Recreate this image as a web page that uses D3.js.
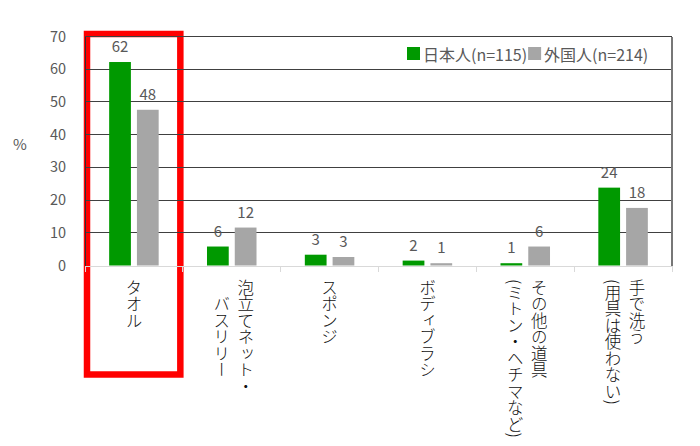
<!DOCTYPE html>
<html>
<head>
<meta charset="utf-8">
<script src="https://cdn.jsdelivr.net/npm/d3@7"></script>
<style>
  html, body { margin: 0; padding: 0; background: #fff; }
  svg { display: block; font-family: "Noto Sans CJK JP", "Noto Sans", sans-serif; }
</style>
</head>
<body>
<svg id="chart" width="700" height="446"></svg>
<script>
// ---- data ----
const categories = ["タオル", "泡立てネット・バスリリー", "スポンジ", "ボディブラシ", "その他の道具(ミトン・ヘチマなど)", "手で洗う(用具は使わない)"];
const categoryLines = [
  ["タオル"],
  ["泡立てネット・", "　バスリリー"],
  ["スポンジ"],
  ["ボディブラシ"],
  ["その他の道具", "(ミトン・ヘチマなど)"],
  ["手で洗う", "(用具は使わない)"]
];
const seriesNames = ["日本人(n=115)", "外国人(n=214)"];
const japanese = [62.2, 5.8, 3.3, 1.5, 0.7, 23.8];
const foreign  = [47.6, 11.6, 2.6, 0.7, 5.8, 17.6];
const yTicks = [0, 10, 20, 30, 40, 50, 60, 70];
const highlighted = "タオル";

// ---- layout ----
const svg = d3.select("#chart");
const pLeft = 85, pRight = 672, pTop = 36.5, pBottom = 265.5;
const colors = ["#009900", "#a6a6a6"];
const textGray = "#595959";

const x = d3.scaleBand().domain(categories).range([pLeft, pRight]).paddingInner(0).paddingOuter(0);
const x1 = d3.scaleBand().domain(seriesNames).range([0, x.bandwidth()]).paddingInner(0.217).paddingOuter(0.87);
const y = d3.scaleLinear().domain([0, 70]).range([pBottom, pTop]);
const fmt = d3.format(".0f");

const rows = categories.map((c, i) => ({ cat: c, lines: categoryLines[i], vals: [japanese[i], foreign[i]] }));

// red highlight box (behind the chart lines)
const hx = x(highlighted);
svg.append("rect")
  .attr("x", hx + 2)
  .attr("y", y(70) - 2.5)
  .attr("width", x.bandwidth() - 4.5)
  .attr("height", 374.5 - (y(70) - 2.5))
  .attr("fill", "none")
  .attr("stroke", "#ff0000")
  .attr("stroke-width", 6.5);

// gridlines
svg.append("g").selectAll("line").data(yTicks.filter(t => t > 0)).join("line")
  .attr("x1", pLeft).attr("x2", pRight)
  .attr("y1", d => y(d)).attr("y2", d => y(d))
  .attr("stroke", "#404040")
  .attr("stroke-width", d => d === 70 ? 1.6 : 1)
  .attr("shape-rendering", "crispEdges");

// plot border verticals
svg.append("line").attr("x1", pLeft).attr("x2", pLeft).attr("y1", y(70)).attr("y2", y(0))
  .attr("stroke", "#333").attr("stroke-width", 1).attr("shape-rendering", "crispEdges");
svg.append("line").attr("x1", pRight).attr("x2", pRight).attr("y1", y(70)).attr("y2", y(0))
  .attr("stroke", "#777").attr("stroke-width", 1.3).attr("shape-rendering", "crispEdges");

// baseline x axis with ticks at boundaries
const xAxis = d3.axisBottom(x).tickSize(0).tickFormat("");
const gx = svg.append("g").attr("transform", `translate(0,${y(0)})`).call(xAxis);
gx.select(".domain").attr("stroke", "#d9d9d9").attr("shape-rendering", "crispEdges");
const bounds = categories.map(c => x(c)).concat([x(categories[categories.length - 1]) + x.bandwidth()]);
gx.selectAll(".bnd").data(bounds).join("line").attr("class", "bnd")
  .attr("x1", d => d).attr("x2", d => d).attr("y1", 0).attr("y2", 6)
  .attr("stroke", "#d9d9d9").attr("shape-rendering", "crispEdges");

// y tick labels
const yAxis = d3.axisLeft(y).tickValues(yTicks).tickSize(0).tickPadding(0);
const gy = svg.append("g").attr("transform", `translate(66,0)`).call(yAxis);
gy.select(".domain").remove();
gy.selectAll("text").attr("fill", textGray).style("font-size", "14.5px")
  .style("font-family", "'Noto Sans CJK JP', sans-serif");

svg.append("text").attr("x", 20).attr("y", 143).attr("text-anchor", "middle")
  .attr("dominant-baseline", "central").attr("fill", textGray).style("font-size", "15px").text("%");

// bars
const groups = svg.append("g").selectAll("g").data(rows).join("g")
  .attr("transform", d => `translate(${x(d.cat)},0)`);
groups.selectAll("rect").data(d => d.vals.map((v, k) => ({ v, s: seriesNames[k], k }))).join("rect")
  .attr("x", d => x1(d.s))
  .attr("y", d => y(d.v))
  .attr("width", x1.bandwidth())
  .attr("height", d => y(0) - y(d.v))
  .attr("fill", d => colors[d.k]);
groups.selectAll("text.lbl").data(d => d.vals.map((v, k) => ({ v, s: seriesNames[k], k }))).join("text")
  .attr("class", "lbl")
  .attr("x", d => x1(d.s) + x1.bandwidth() / 2)
  .attr("y", d => y(d.v) - 10)
  .attr("text-anchor", "middle")
  .attr("fill", textGray)
  .style("font-size", "15px")
  .text(d => fmt(d.v));

// category labels (vertical)
const lineGap = 24;
const cl = svg.append("g").selectAll("g").data(rows).join("g");
cl.each(function (d) {
  const n = d.lines.length;
  const cx = x(d.cat) + x.bandwidth() / 2 + (n > 1 ? 2 : 0);
  d3.select(this).selectAll("text").data(d.lines).join("text")
    .attr("x", (t, i) => cx + ((n - 1) / 2 - i) * lineGap)
    .attr("y", 279)
    .style("writing-mode", "vertical-rl")
    .style("font-size", "16.5px")
    .style("font-weight", 300)
    .attr("fill", "#111")
    .text(t => t);
});

// legend
const lg = svg.append("g");
let lx = 407;
seriesNames.forEach((s, k) => {
  lg.append("rect").attr("x", lx).attr("y", 47).attr("width", 13).attr("height", 13).attr("fill", colors[k]);
  const t = lg.append("text").attr("x", lx + 16).attr("y", 54).attr("dominant-baseline", "central")
    .attr("fill", textGray).style("font-size", "16px").text(s);
  lx = lx + 16 + t.node().getComputedTextLength() + 1;
});
</script>
</body>
</html>
